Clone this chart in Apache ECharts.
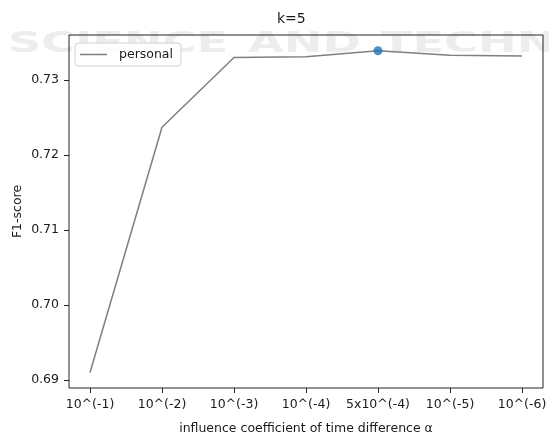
<!DOCTYPE html>
<html>
<head>
<meta charset="utf-8">
<script src="https://cdn.jsdelivr.net/npm/echarts@6/dist/echarts.min.js"></script>
<style>html,body{margin:0;padding:0;background:#fff;}#c{width:549px;height:432px;}</style>
</head>
<body>
<div id="c"></div>
<script>
const categories = ['10^(-1)', '10^(-2)', '10^(-3)', '10^(-4)', '5x10^(-4)', '10^(-5)', '10^(-6)'];
const personal = [0.6910, 0.7237, 0.7330, 0.7331, 0.7339, 0.7333, 0.7332];
const yTicks = [0.69, 0.70, 0.71, 0.72, 0.73];
const titleText = 'k=5';
const seriesName = 'personal';
const xName = 'influence coefficient of time difference α';
const yName = 'F1-score';

const maxIdx = personal.indexOf(Math.max(...personal));
const bestPoint = personal.map((v, i) => (i === maxIdx ? v : null));

const font = 'DejaVu Sans';
const txt = '#1a1a1a';
const fs = 12.5;
const wm = (text, x) => ({
  type: 'text', x: x, y: 31, scaleX: 1.65, z: -10, silent: true,
  style: { text: text, fill: '#ededed', font: 'bold 28px "DejaVu Sans"', textVerticalAlign: 'top' }
});
const chart = echarts.init(document.getElementById('c'), null, { renderer: 'canvas' });
chart.setOption({
  animation: false,
  backgroundColor: '#fff',
  graphic: [wm('SCIENCE', 8), wm('AND', 248), wm('TECHNOLOGY', 381)],
  title: {
    text: titleText, left: 277, top: 12, padding: 0,
    textStyle: { fontFamily: font, fontSize: 14, fontWeight: 'normal', color: txt }
  },
  legend: {
    data: [{ name: seriesName, icon: 'rect' }], left: 75, top: 43, orient: 'vertical',
    padding: [5, 8, 5, 5], itemWidth: 27, itemHeight: 1.5, itemGap: 4,
    backgroundColor: 'rgba(255,255,255,0.85)', borderColor: '#d0d0d0', borderWidth: 1, borderRadius: 3,
    textStyle: { fontFamily: font, fontSize: fs, color: txt, padding: [0, 0, 0, 7], lineHeight: 13 }
  },
  grid: [
    { left: 69, right: 6, top: 35, bottom: 44, show: true, borderColor: '#222', borderWidth: 1, backgroundColor: 'transparent', containLabel: false, outerBoundsMode: 'none' },
    { left: 90, right: 27, top: 80, bottom: 52, containLabel: false, outerBoundsMode: 'none' }
  ],
  xAxis: [
    { type: 'value', gridIndex: 0, min: 0, max: 1, axisLine: { show: false }, axisTick: { show: false }, axisLabel: { show: false }, splitLine: { show: false },
      name: xName, nameLocation: 'middle', nameGap: 34, nameTextStyle: { fontFamily: font, fontSize: fs, color: txt } },
    { type: 'category', gridIndex: 1, data: categories, boundaryGap: false, position: 'bottom', offset: 8,
      axisLine: { show: false }, axisTick: { show: true, length: 5, alignWithLabel: true, lineStyle: { color: '#222' } },
      axisLabel: { fontFamily: font, fontSize: fs, color: txt, margin: 10, interval: 0 }, splitLine: { show: false } }
  ],
  yAxis: [
    { type: 'value', gridIndex: 0, min: 0, max: 1, axisLine: { show: false }, axisTick: { show: false }, axisLabel: { show: false }, splitLine: { show: false },
      name: yName, nameLocation: 'middle', nameGap: 45, nameRotate: 90, nameTextStyle: { fontFamily: font, fontSize: fs, color: txt } },
    { type: 'value', gridIndex: 1, min: yTicks[0], max: yTicks[yTicks.length - 1], interval: 0.01, position: 'left', offset: 21,
      axisLine: { show: false }, axisTick: { show: true, length: 5, lineStyle: { color: '#222' } },
      axisLabel: { fontFamily: font, fontSize: fs, color: txt, margin: 10, formatter: v => v.toFixed(2) }, splitLine: { show: false } }
  ],
  series: [
    { name: seriesName, type: 'line', xAxisIndex: 1, yAxisIndex: 1, data: personal, clip: false,
      symbol: 'none', showSymbol: false, lineStyle: { color: '#7f7f7f', width: 1.5 }, itemStyle: { color: '#7f7f7f' } },
    { name: 'best', type: 'scatter', xAxisIndex: 1, yAxisIndex: 1, data: bestPoint, clip: false,
      symbolSize: 9, itemStyle: { color: '#1f77b4' }, z: 5 }
  ]
});
</script>
</body>
</html>
